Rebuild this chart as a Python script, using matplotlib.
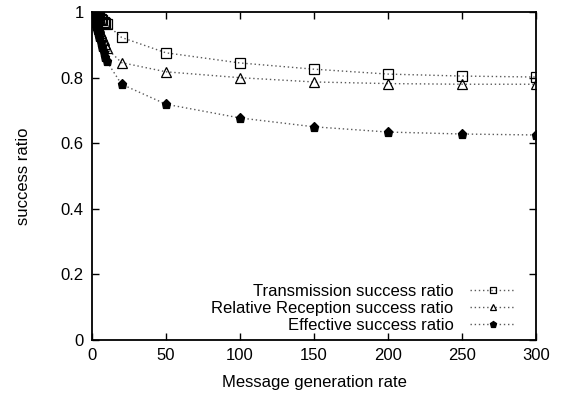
import matplotlib
matplotlib.use('Agg')
import matplotlib.pyplot as plt

"""
Success ratios vs message generation rate
"""

plt.rcParams['font.family'] = ['Liberation Sans', 'DejaVu Sans']

rate = [0.5, 1, 1.5, 2, 2.5, 3, 3.5, 4, 4.5, 5, 6, 7, 8, 9, 10,
        20, 50, 100, 150, 200, 250, 300]

transmission = [1.0, 1.0, 0.998, 0.996, 0.995, 0.993, 0.99, 0.988, 0.985, 0.982,
                0.978, 0.975, 0.97, 0.967, 0.963,
                0.923, 0.876, 0.845, 0.826, 0.811, 0.805, 0.802]
reception = [0.998, 0.995, 0.99, 0.985, 0.98, 0.975, 0.97, 0.962, 0.955, 0.948,
             0.938, 0.927, 0.914, 0.903, 0.89,
             0.846, 0.818, 0.800, 0.787, 0.782, 0.780, 0.780]
effective = [0.995, 0.99, 0.982, 0.973, 0.965, 0.957, 0.948, 0.94, 0.932, 0.924,
             0.908, 0.893, 0.878, 0.864, 0.85,
             0.780, 0.719, 0.677, 0.650, 0.634, 0.628, 0.625]

series = [
    ('Transmission success ratio', transmission, 's', 'none', 6.5),
    ('Relative Reception success ratio', reception, '^', 'none', 6.5),
    ('Effective success ratio', effective, 'p', 'black', 6.5),
]

fs = 12

fig = plt.figure(figsize=(5.71, 3.94), dpi=100)
ax = fig.add_axes([0.161, 0.138, 0.778, 0.831])

for label, vals, marker, face, size in series:
    ax.plot(rate, vals, linestyle=(0, (1, 2)), linewidth=1.0, color='0.35',
            marker=marker, markersize=size, markerfacecolor=face,
            markeredgecolor='black', markeredgewidth=0.9, label=label)

ax.set_xlim(0, 300)
ax.set_ylim(0, 1)
ax.set_xticks([0, 50, 100, 150, 200, 250, 300])
ax.set_yticks([0, 0.2, 0.4, 0.6, 0.8, 1])
ax.set_yticklabels(['0', '0.2', '0.4', '0.6', '0.8', '1'])
ax.tick_params(direction='in', length=5, width=1.0, labelsize=fs,
               top=True, right=True, pad=6)
for sp in ax.spines.values():
    sp.set_linewidth(1.3)

ax.set_xlabel('Message generation rate', fontsize=fs, labelpad=9)
ax.set_ylabel('success ratio', fontsize=fs, labelpad=21)

ax.legend(loc='lower right', bbox_to_anchor=(0.953, 0.02), frameon=False,
          markerfirst=False, fontsize=fs, handlelength=2.7, handletextpad=1.0,
          labelspacing=0.12, borderpad=0, borderaxespad=0, markerscale=0.75)

plt.savefig('out.png', dpi=100)
